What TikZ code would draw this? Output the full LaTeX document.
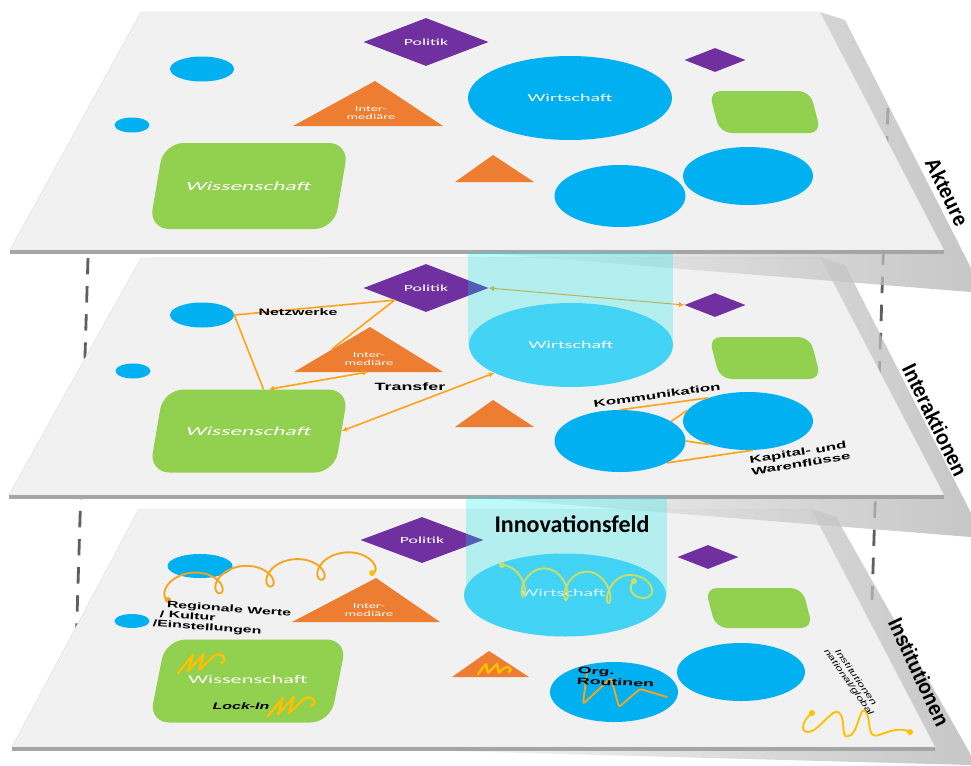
\documentclass[tikz,border=0pt]{standalone}
\usepackage{fontspec}
\setmainfont{Liberation Sans}
\newfontfamily\calfont{Carlito}
\usetikzlibrary{shapes.geometric,arrows.meta}

\definecolor{planegray}{RGB}{241,241,241}
\definecolor{edgegray}{RGB}{165,165,165}
\definecolor{shadegray}{RGB}{180,180,180}
\definecolor{guidegray}{RGB}{95,95,95}
\definecolor{polpurple}{RGB}{112,48,160}
\definecolor{actblue}{RGB}{0,176,240}
\definecolor{fieldblue}{RGB}{66,211,245}
\definecolor{fieldcyan}{RGB}{0,235,235}
\definecolor{scigreen}{RGB}{146,208,80}
\definecolor{midorange}{RGB}{237,125,49}
\definecolor{linkorange}{RGB}{255,163,26}
\definecolor{waveyellow}{RGB}{255,192,0}
\definecolor{waveorange}{RGB}{245,165,30}
\definecolor{wavegreen}{RGB}{205,222,100}

\tikzset{
  plane/.style={fill=planegray, draw=gray!25, line width=0.4pt},
  front/.style={fill=edgegray},
  castshade/.style={left color=planegray, right color=shadegray, opacity=0.75},
  guide/.style={draw=guidegray, line width=2.4pt, dash pattern=on 14pt off 10pt},
  pol/.style={diamond, fill=polpurple, inner sep=0pt, minimum width=37.5mm, minimum height=14.4mm},
  dia/.style={diamond, fill=polpurple, inner sep=0pt, minimum width=18.3mm, minimum height=7.2mm},
  act/.style={ellipse, fill=actblue, inner sep=0pt},
  sci/.style={rectangle, fill=scigreen, inner sep=0pt},
  tri/.style={fill=midorange},
  wlbl/.style={text=white, font=\calfont\fontsize{8}{8.5}\selectfont, align=center, xscale=1.9},
  blbl/.style={font=\bfseries\fontsize{8}{8.5}\selectfont, align=left, xscale=1.7},
  side/.style={font=\bfseries\fontsize{18}{18}\selectfont, xscale=0.92},
  link/.style={draw=linkorange, line width=1.4pt},
  twoway/.style={link, {Latex[length=4.5pt,width=4.5pt]}-{Latex[length=4.5pt,width=4.5pt]}},
  wave/.style={line width=1.6pt, line cap=round, line join=round},
  tip/.style={circle, inner sep=0pt, minimum size=1.8mm},
}

\begin{document}
\begin{tikzpicture}[x=0.3mm, y=-0.3mm]
\useasboundingbox (0,0) rectangle (971,765);

% dashed guides behind the layers
\coordinate (gl1) at (88,258);
\coordinate (gl2) at (76,650);
\coordinate (gr1) at (888,108);
\coordinate (gr2) at (872,600);
\draw[guide] (gl1) -- (gl2);
\draw[guide] (gr1) -- (gr2);

% the three layers, lowest first
\shade[castshade] (811,509) -- (836,517) -- (971,755) -- (971,765) -- (450,751) -- (935,747) -- cycle;
\path[plane] (139,509) -- (811,509) -- (935,747) -- (12,747) -- cycle;
\fill[front] (12,747) -- (935,747) -- (935,751) -- (12,751) -- cycle;

\shade[castshade] (820,257) -- (845,265) -- (971,513) -- (971,537) -- (470,497) -- (944,495) -- cycle;
\path[plane] (141,258) -- (820,257) -- (944,495) -- (9,495) -- cycle;
\fill[front] (9,495) -- (944,495) -- (944,499) -- (9,499) -- cycle;

\shade[castshade] (820,12) -- (845,20) -- (971,268) -- (971,292) -- (470,252) -- (944,250) -- cycle;
\path[plane] (141,12) -- (820,12) -- (944,250) -- (10,250) -- cycle;
\fill[front] (10,250) -- (944,250) -- (944,254) -- (10,254) -- cycle;

% Akteure
\node[pol] (pol1) at (426,42) {};
\node[wlbl] (polt1) at (pol1) {Politik};
\node[dia] (dia1) at (715,60) {};
\node[act, minimum width=19.2mm, minimum height=7.5mm] (ba1) at (202,69) {};
\node[act, minimum width=10.5mm, minimum height=4.5mm] (bb1) at (132,125) {};
\node[act, minimum width=61.2mm, minimum height=25.2mm] (wir1) at (570,98) {};
\node[wlbl, font=\calfont\fontsize{9}{9}\selectfont] (wirt1) at (wir1) {Wirtschaft};
\node[act, minimum width=39.3mm, minimum height=18.6mm] (bc1) at (620,196) {};
\node[act, minimum width=39mm, minimum height=17.4mm] (bd1) at (748,176) {};
\fill[tri] (375,81) -- (443,126) -- (293,126) -- cycle;
\node[wlbl, font=\calfont\fontsize{6.5}{7.5}\selectfont] (int1) at (371,113) {Inter-\\mediäre};
\fill[tri] (493,155) -- (534,182) -- (455,182) -- cycle;
\node[sci, xslant=0.17, minimum width=55.5mm, minimum height=25.8mm, rounded corners=6mm] (wis1) at (249,186) {};
\node[wlbl, xslant=0.17, font=\calfont\fontsize{10.5}{11}\selectfont] (wist1) at (wis1) {Wissenschaft};
\node[sci, xslant=-0.26, minimum width=30.3mm, minimum height=12.6mm, rounded corners=3.5mm] (gr1) at (765,112) {};

% Interaktionen
\node[pol] (pol2) at (426,288) {};
\node[wlbl] (polt2) at (pol2) {Politik};
\node[dia] (dia2) at (715,305) {};
\node[act, minimum width=19.2mm, minimum height=7.5mm] (ba2) at (202,315) {};
\node[act, minimum width=10.5mm, minimum height=4.5mm] (bb2) at (133,371) {};
\node[act, minimum width=39.3mm, minimum height=18.6mm] (bc2) at (620,441) {};
\node[act, minimum width=39mm, minimum height=17.4mm] (bd2) at (748,421) {};
\fill[tri] (370,327) -- (443,372) -- (294,372) -- cycle;
\node[wlbl, font=\calfont\fontsize{6.5}{7.5}\selectfont] (int2) at (369,359) {Inter-\\mediäre};
\coordinate (tl2) at (332,349);
\coordinate (tb2) at (368,372);
\fill[tri] (493,400) -- (534,427) -- (455,427) -- cycle;
\node[sci, xslant=0.17, minimum width=55.5mm, minimum height=24.9mm, rounded corners=6mm] (wis2) at (249,431) {};
\node[wlbl, xslant=0.17, font=\calfont\fontsize{10.5}{11}\selectfont] (wist2) at (wis2) {Wissenschaft};
\node[sci, xslant=-0.26, minimum width=30.3mm, minimum height=12.6mm, rounded corners=3.5mm] (gr2) at (765,358) {};
\node[act, fill=none, minimum width=61.2mm, minimum height=25.2mm] (wir2) at (571,345) {};

\draw[link] (ba2.east) -- (pol2.south west);
\draw[link] (ba2.east) -- (wis2.80);
\draw[link] (pol2.south west) -- (tl2);
\draw[twoway] (wis2.73) -- (tb2);
\draw[twoway] (wis2.east) -- (wir2.200);
\draw[twoway, line width=0.8pt, draw=linkorange!85!brown] (pol2.east) -- (dia2.west);
\draw[link] (bc2.north) -- (bd2.150);
\draw[link] (bc2.21) -- (bd2.170);
\draw[link] (bc2.east) -- (bd2.211);
\draw[link] (bc2.-25) -- (bd2.-80);
\node[blbl] (net2) at (298,312) {Netzwerke};
\node[blbl, font=\bfseries\fontsize{9}{9}\selectfont] (tra2) at (410,387) {Transfer};
\node[rotate=8, blbl, font=\bfseries\fontsize{8.5}{9}\selectfont] (kom2) at (657,395) {Kommunikation};
\node[rotate=9, blbl, font=\bfseries\fontsize{8.5}{10}\selectfont] (kap2) at (800,458) {Kapital- und\\Warenflüsse};

% Institutionen
\node[pol, minimum width=36.9mm, minimum height=13.8mm] (pol3) at (422,540) {};
\node[wlbl] (polt3) at (pol3) {Politik};
\node[dia] (dia3) at (708,557) {};
\node[act, minimum width=19.5mm, minimum height=7.2mm] (ba3) at (200,566) {};
\node[act, minimum width=10.5mm, minimum height=4.2mm] (bb3) at (132,621) {};
\node[act, minimum width=38.4mm, minimum height=18mm] (bc3) at (614,692) {};
\node[act, minimum width=38.4mm, minimum height=17.4mm] (bd3) at (741,672) {};
\fill[tri] (376,578) -- (440,622) -- (292,622) -- cycle;
\node[wlbl, font=\calfont\fontsize{6.5}{7.5}\selectfont] (int3) at (369,610) {Inter-\\mediäre};
\fill[tri] (489,651) -- (529,677) -- (452,677) -- cycle;
\node[sci, xslant=0.2, minimum width=54.3mm, minimum height=24.9mm, rounded corners=6mm] (wis3) at (248,681) {};
\node[wlbl, font=\calfont\fontsize{10}{11}\selectfont] (wist3) at (248,679) {Wissenschaft};
\node[sci, xslant=-0.26, minimum width=29.1mm, minimum height=12mm, rounded corners=3.5mm] (gr3) at (759,608) {};

% the innovation field through the layers
\fill[fieldcyan, opacity=0.25] (468,252) rectangle (673,345);
\fill[fieldcyan, opacity=0.25] (466,497) rectangle (667,595);
\node[act, fill=fieldblue, minimum width=61.2mm, minimum height=25.2mm] (wir2b) at (571,345) {};
\node[wlbl, font=\calfont\fontsize{9}{9}\selectfont] (wirt2) at (wir2b) {Wirtschaft};
\node[act, fill=fieldblue, minimum width=60.6mm, minimum height=24.9mm] (wir3) at (565,595) {};
\node[wlbl, font=\calfont\fontsize{9}{9}\selectfont, opacity=0.8] (wirt3) at (563,593) {Wirtschaft};
\node[font=\calfont\bfseries\fontsize{20.5}{20.5}\selectfont] (inn) at (572,524) {Innovationsfeld};

% institutional lines
\draw[wave, draw=waveorange] plot[domain=180:1620, samples=170, smooth]
  ({168+0.14167*(\x-180)+14*sin(\x)}, {588-0.01875*(\x-180)-12*cos(\x)});
\node[tip, fill=waveorange] (reg3a) at (168,600) {};
\node[tip, fill=waveyellow] (reg3b) at (372,573) {};
\node[rotate=-4, blbl] (reg3) at (222,619) {\hspace*{0.8em}Regionale Werte\\\hspace*{0.4em}/ Kultur\\/Einstellungen};

\draw[wave, draw=wavegreen] plot[domain=0:1080, samples=120, smooth]
  ({502+0.11852*\x+10*sin(\x)}, {580+0.009259*\x-15*cos(\x)})
  .. controls (652,575) and (660,598) .. (643,598) .. controls (630,597) and (628,586) .. (634,581);
\node[tip, fill=wavegreen] (wav3a) at (502,565) {};
\node[tip, fill=wavegreen] (wav3b) at (634,581) {};

\draw[wave, draw=waveyellow, line width=2pt] (178,673) -- (193,655) -- (188,671) -- (204,654) -- (199,670) -- (214,656)
  .. controls (222,651) and (229,660) .. (221,663);
\draw[wave, draw=waveyellow, line width=2pt] (268,716) -- (283,698) -- (278,714) -- (294,697) -- (289,713) -- (304,699)
  .. controls (312,694) and (319,703) .. (311,706);
\node[blbl, font=\bfseries\itshape\fontsize{8}{8.5}\selectfont] (lock3) at (241,706) {Lock-In};
\draw[wave, draw=waveyellow, line width=2pt] (478,674) -- (486,664) -- (488,673) -- (497,664) -- (499,673)
  .. controls (506,663) and (514,668) .. (509,672);

\draw[wave, draw=waveorange, rounded corners=2pt] (587,671) -- (583,704) -- (611,678) -- (619,707) -- (640,689) -- (667,697);
\node[blbl, rotate=-3, font=\bfseries\fontsize{8}{9}\selectfont, xscale=1.12] (org3) at (616,677) {Org.\\Routinen};

\draw[wave, draw=waveyellow] (812,713) .. controls (800,722) and (800,736) .. (812,731)
  .. controls (825,724) and (835,704) .. (841,715) .. controls (846,727) and (840,741) .. (851,735)
  .. controls (859,729) and (860,704) .. (866,712) .. controls (872,722) and (866,739) .. (879,735)
  .. controls (890,731) and (900,727) .. (910,732);
\node[tip, fill=waveyellow] (nat3a) at (812,713) {};
\node[tip, fill=waveyellow] (nat3b) at (910,732) {};
\node[rotate=-55, font=\itshape\fontsize{7}{7.5}\selectfont, xscale=1.5, align=center] (nat3) at (852,680) {Institutionen\\national/global};

% layer names
\node[rotate=-64, side] (akt) at (947,192) {Akteure};
\node[rotate=-64, side] (ina) at (935,420) {Interaktionen};
\node[rotate=-65, side] (ins) at (919,672) {Institutionen};
\end{tikzpicture}
\end{document}
